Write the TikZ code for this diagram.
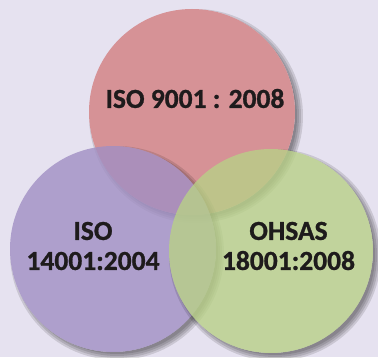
\documentclass[tikz,border=0pt]{standalone}
\usepackage{fontspec}
\setmainfont{Carlito}[BoldFeatures={FakeBold=1}]
\definecolor{bgc}{RGB}{230,226,240}
\definecolor{redc}{RGB}{214,146,150}
\definecolor{purc}{RGB}{161,143,195}
\definecolor{grnc}{RGB}{184,208,135}
\definecolor{txtc}{RGB}{30,27,28}
\tikzset{
  lbl/.style={font=\bfseries\fontsize{27.5}{30}\selectfont, text=txtc, align=center, inner sep=0pt},
  shade circle/.style={fill=black, fill opacity=0.12, draw=none},
}
\newcommand{\softshadow}[3]{%
  \begin{scope}[even odd rule]
  \clip (-10,-10) rectangle (400,400) (#1,#2) circle (#3);
  \foreach \k in {-2,0,2,4}{\fill[shade circle] (#1+4,#2-4) circle ({#3+\k});}%
  \end{scope}%
}
\begin{document}
\begin{tikzpicture}[x=1pt,y=1pt]
\fill[bgc] (0,0) rectangle (378,357);
\useasboundingbox (0,0) rectangle (378,357);
% red
\softshadow{192}{245}{103}
\fill[redc] (192,245) circle (103);
\node[circle, minimum size=206pt, inner sep=0pt] (iso9) at (192,245) {};
% purple
\softshadow{113}{108}{103}
\fill[purc, fill opacity=0.8] (113,108) circle (103);
\node[circle, minimum size=206pt, inner sep=0pt] (iso14) at (113,108) {};
% green
\softshadow{271}{106}{102}
\fill[grnc, fill opacity=0.8] (271,106) circle (102);
\node[circle, minimum size=204pt, inner sep=0pt] (ohsas) at (271,106) {};
% labels
\node[lbl] (t1) at (195,258.5) {ISO 9001 : 2008};
\node[lbl] (t2) at (93,111) {ISO\\14001:2004};
\node[lbl] (t3) at (288.5,111) {OHSAS\\18001:2008};
\end{tikzpicture}
\end{document}
